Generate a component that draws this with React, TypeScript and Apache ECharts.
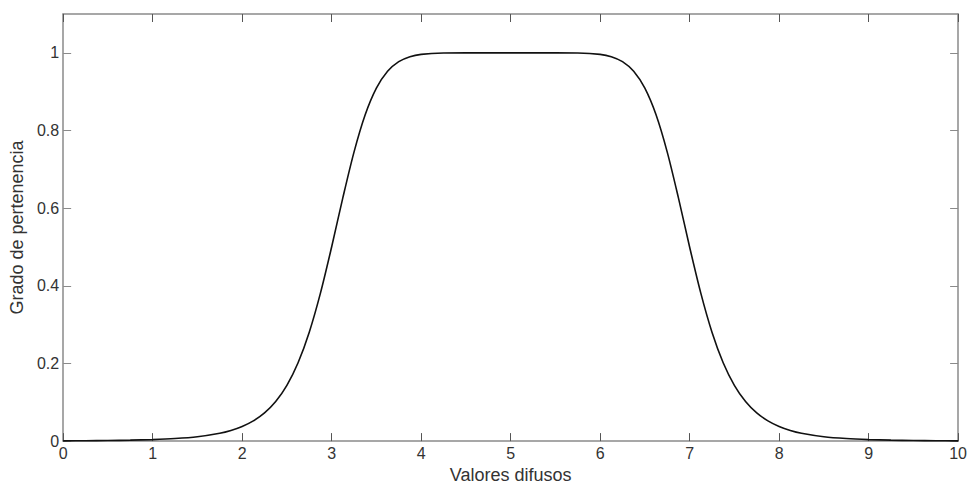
import React, { useEffect, useRef } from "react";
import * as echarts from "echarts";

const xValues = [
  0, 0.25, 0.5, 0.75, 1, 1.25, 1.5, 1.75, 1.875, 2, 2.125, 2.25, 2.375, 2.5, 2.625, 2.75, 2.875, 3,
  3.125, 3.25, 3.375, 3.5, 3.625, 3.75, 3.875, 4, 4.25, 4.5, 4.75, 5,
  5.25, 5.5, 5.75, 6, 6.125, 6.25, 6.375, 6.5, 6.625, 6.75, 6.875, 7, 7.125, 7.25, 7.375, 7.5, 7.625,
  7.75, 7.875, 8, 8.125, 8.25, 8.5, 8.75, 9, 9.25, 9.5, 9.75, 10,
];
const membership = [
  0.0007, 0.001, 0.0015, 0.0024, 0.0039, 0.0065, 0.0112, 0.0202, 0.0274, 0.0376, 0.052, 0.0726, 0.102,
  0.1437, 0.2018, 0.2805, 0.3811, 0.5,
  0.6263, 0.7443, 0.8404, 0.909, 0.9525, 0.9773, 0.9901, 0.9961, 0.9996, 1, 1, 1,
  1, 1, 0.9996, 0.9961, 0.9901, 0.9773, 0.9525, 0.909, 0.8404, 0.7443, 0.6263, 0.5, 0.3811, 0.2805,
  0.2018, 0.1437, 0.102, 0.0726, 0.052, 0.0376, 0.0274, 0.0202, 0.0112, 0.0065, 0.0039, 0.0024, 0.0015,
  0.001, 0.0007,
];
const xTicks = [0, 1, 2, 3, 4, 5, 6, 7, 8, 9, 10];
const yTicks = [0, 0.2, 0.4, 0.6, 0.8, 1];
const xTitle = "Valores difusos";
const yTitle = "Grado de pertenencia";

export default function App() {
  const ref = useRef<HTMLDivElement>(null);
  useEffect(() => {
    if (!ref.current) return;
    const chart = echarts.init(ref.current, null, { renderer: "svg" });
    const axisColor = "#8a8a8a";
    const tickColor = "#555555";
    const labelColor = "#333333";
    const font = "Liberation Sans, Arial, sans-serif";
    const hiddenAxisBase = {
      axisLine: { show: true, onZero: false, lineStyle: { color: axisColor, width: 1.5 } },
      axisLabel: { show: false },
      splitLine: { show: false },
    };
    chart.setOption({
      animation: false,
      backgroundColor: "#ffffff",
      grid: { left: 62, right: 9, top: 14, bottom: 40, containLabel: false },
      xAxis: [
        {
          type: "value",
          min: 0,
          max: 10,
          interval: 1,
          position: "bottom",
          name: xTitle,
          nameLocation: "middle",
          nameGap: 22,
          nameTextStyle: { color: labelColor, fontSize: 18, fontFamily: font },
          axisLine: { show: true, onZero: false, lineStyle: { color: axisColor, width: 1.5 } },
          axisTick: { show: true, inside: true, length: 8, lineStyle: { color: tickColor } },
          axisLabel: {
            color: labelColor,
            fontSize: 16,
            fontFamily: font,
            margin: 4,
            customValues: xTicks,
          },
          splitLine: { show: false },
        },
        {
          type: "value",
          min: 0,
          max: 10,
          interval: 1,
          position: "top",
          ...hiddenAxisBase,
          axisTick: { show: true, inside: true, length: 8, lineStyle: { color: tickColor } },
        },
      ],
      yAxis: [
        {
          type: "value",
          min: 0,
          max: 1.1,
          position: "left",
          name: yTitle,
          nameLocation: "middle",
          nameGap: 33,
          nameTextStyle: { color: labelColor, fontSize: 18, fontFamily: font },
          axisLine: { show: true, onZero: false, lineStyle: { color: axisColor, width: 1.5 } },
          axisTick: { show: true, inside: true, length: 8, lineStyle: { color: axisColor }, customValues: yTicks },
          axisLabel: {
            color: labelColor,
            fontSize: 16,
            fontFamily: font,
            margin: 4,
            customValues: yTicks,
            formatter: (v: number) => String(Math.round(v * 10) / 10),
          },
          splitLine: { show: false },
        },
        {
          type: "value",
          min: 0,
          max: 1.1,
          position: "right",
          ...hiddenAxisBase,
          axisTick: { show: true, inside: true, length: 8, lineStyle: { color: axisColor }, customValues: yTicks },
        },
      ],
      series: [
        {
          type: "line",
          xAxisIndex: 0,
          yAxisIndex: 0,
          data: xValues.map((x, i) => [x, membership[i]]),
          showSymbol: false,
          smooth: 0.3,
          lineStyle: { color: "#111111", width: 1.6 },
          z: 5,
        },
      ],
    });
    return () => chart.dispose();
  }, []);
  return (
    <div
      ref={ref}
      style={{ position: "fixed", left: 0, top: 0, width: 970, height: 489 }}
    />
  );
}
